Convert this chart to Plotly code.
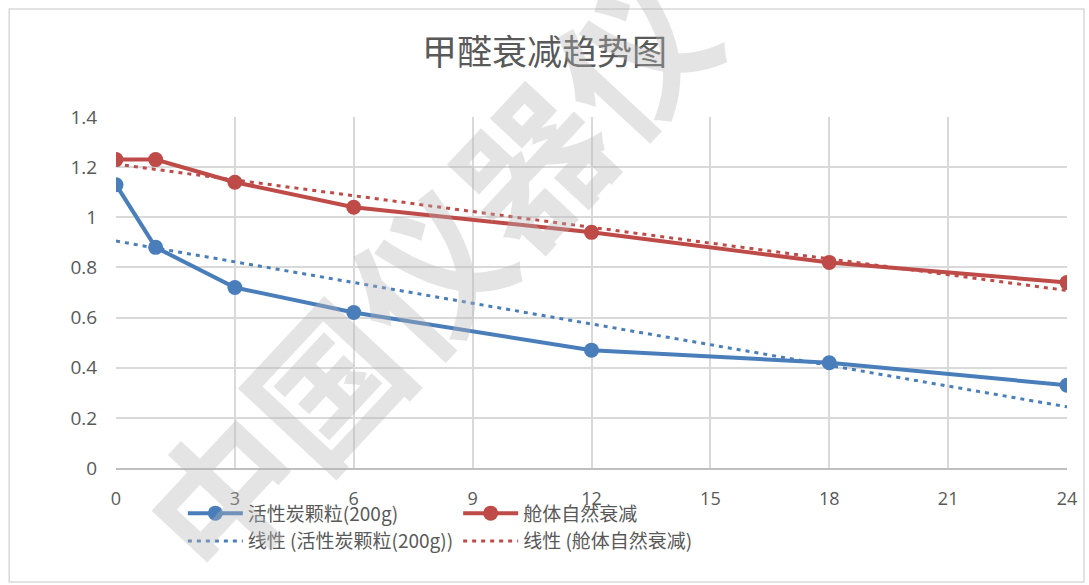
import plotly.graph_objects as go

hours = [0, 1, 3, 6, 12, 18, 24]
carbon = [1.13, 0.88, 0.72, 0.62, 0.47, 0.42, 0.33]
natural = [1.23, 1.23, 1.14, 1.04, 0.94, 0.82, 0.74]
trend_x = [0, 24]
carbon_trend = [0.905, 0.244]
natural_trend = [1.212, 0.708]
x_ticks = [0, 3, 6, 9, 12, 15, 18, 21, 24]
y_ticks = [0, 0.2, 0.4, 0.6, 0.8, 1.0, 1.2, 1.4]
y_labels = ["0", "0.2", "0.4", "0.6", "0.8", "1", "1.2", "1.4"]

BLUE = "#4A7EBB"
RED = "#BE4B48"
FONT = "Noto Sans CJK SC"

fig = go.Figure()
fig.add_trace(go.Scatter(x=hours, y=carbon, mode="lines+markers", name="活性炭颗粒(200g)",
                         legendgroup="a",
                         line=dict(color=BLUE, width=4), marker=dict(size=15, color=BLUE)))
fig.add_trace(go.Scatter(x=trend_x, y=carbon_trend, mode="lines", name="线性 (活性炭颗粒(200g))",
                         legendgroup="a",
                         line=dict(color=BLUE, width=3, dash="4px,5px")))
fig.add_trace(go.Scatter(x=hours, y=natural, mode="lines+markers", name="舱体自然衰减",
                         legendgroup="b",
                         line=dict(color=RED, width=4), marker=dict(size=15, color=RED)))
fig.add_trace(go.Scatter(x=trend_x, y=natural_trend, mode="lines", name="线性 (舱体自然衰减)",
                         legendgroup="b",
                         line=dict(color=RED, width=3, dash="4px,5px")))

fig.update_layout(
    width=1089, height=585,
    margin=dict(l=116, r=20, t=117, b=117),
    paper_bgcolor="white", plot_bgcolor="white",
    title=dict(text="甲醛衰减趋势图", x=0.5, xanchor="center", y=0.91, yanchor="middle",
               font=dict(family=FONT, size=35, color="#595959")),
    font=dict(family=FONT, color="#595959"),
    legend=dict(orientation="h", traceorder="grouped", x=(183 - 116) / 953, xanchor="left",
                y=-0.075, yanchor="top", bgcolor="rgba(0,0,0,0)",
                font=dict(family=FONT, size=19, color="#595959"), itemwidth=55,
                tracegroupgap=0),
    showlegend=True,
)
fig.update_xaxes(range=[0, 24], tickvals=x_ticks, showgrid=True, gridcolor="#D9D9D9", gridwidth=1.5,
                 zeroline=False, showline=True, linecolor="#BFBFBF", linewidth=1.5,
                 ticks="outside", ticklen=14, tickcolor="rgba(0,0,0,0)",
                 tickfont=dict(family="Open Sans", size=18, color="#595959"))
fig.update_yaxes(range=[0, 1.4], tickvals=y_ticks, ticktext=y_labels, showgrid=True, gridcolor="#D9D9D9",
                 gridwidth=1.5, zeroline=False, ticks="outside", ticklen=14, tickcolor="rgba(0,0,0,0)",
                 tickfont=dict(family="Open Sans", size=19, color="#595959"))

# outer chart border
fig.add_shape(type="rect", xref="paper", yref="paper",
              x0=(9 - 116) / 953, x1=(1086 - 116) / 953,
              y0=(468 - 582) / 351, y1=(468 - 9) / 351,
              line=dict(color="#D9D9D9", width=1.5), fillcolor="rgba(0,0,0,0)", layer="below")

# watermark
fig.add_annotation(text="<b>中国仪器仪</b>", xref="paper", yref="paper",
                   x=(425 - 116) / 953, y=(468 - 270) / 351, xanchor="center", yanchor="middle",
                   showarrow=False, textangle=-47,
                   font=dict(family=FONT, size=150, color="rgba(180,180,180,0.36)"))

fig.write_html("out.html")
